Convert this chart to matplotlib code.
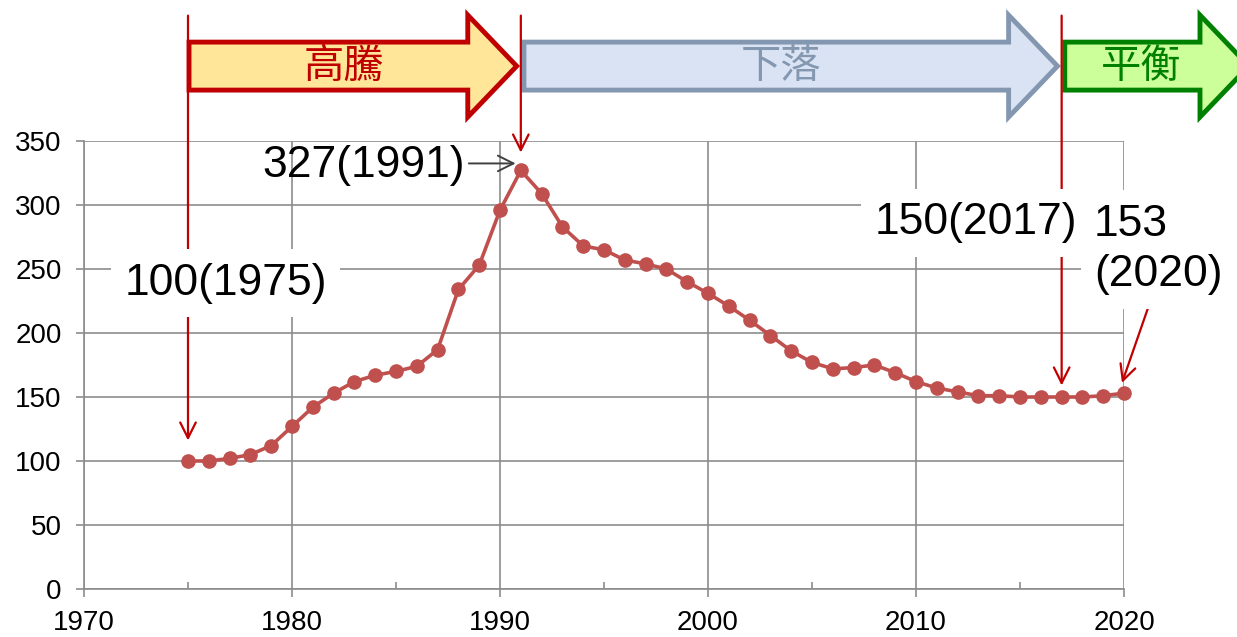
import matplotlib
matplotlib.use('Agg')
import matplotlib.pyplot as plt
from matplotlib.patches import Polygon
from matplotlib.ticker import MultipleLocator

# ---- data ----
years = list(range(1975, 2021))
values = [100, 100, 102, 105, 112, 127, 142, 153, 162, 167,
          170, 174, 187, 234, 253, 296, 327, 309, 283, 268,
          265, 257, 254, 250, 240, 231, 221, 210, 198, 186,
          177, 172, 173, 175, 169, 162, 157, 154, 151, 151,
          150, 150, 150, 150, 151, 153]
phase_labels = ["高騰", "下落", "平衡"]
phase_starts = [1975, 1991, 2017]
phase_ends = [1991, 2017, 2026]
phase_face = ["#FFE699", "#DAE3F3", "#CCFF99"]
phase_edge = ["#C00000", "#8497B0", "#008000"]
x_ticks = [1970, 1980, 1990, 2000, 2010, 2020]
y_ticks = [0, 50, 100, 150, 200, 250, 300, 350]

plt.rcParams['font.family'] = ['Liberation Sans', 'DejaVu Sans']
CJK = ['Noto Sans CJK TC', 'DejaVu Sans']

fig = plt.figure(figsize=(12.37, 6.37), dpi=100)
ax = fig.add_axes([0.0679, 0.0754, 0.9087 - 0.0679, 0.7786 - 0.0754])

grid_c = '#8C8C8C'
ax.set_xlim(1970, 2020)
ax.set_ylim(0, 350)
ax.set_xticks(x_ticks)
ax.set_yticks(y_ticks)
ax.xaxis.set_minor_locator(MultipleLocator(5))
ax.grid(True, which='major', color=grid_c, lw=1.2, zorder=0)
for s in ['top', 'right']:
    ax.spines[s].set_visible(False)
for s in ['left', 'bottom']:
    ax.spines[s].set_color(grid_c)
    ax.spines[s].set_linewidth(1.2)
ax.tick_params(axis='both', which='major', direction='out', length=6,
               width=1.2, color=grid_c, labelsize=20, labelcolor='black')
ax.tick_params(axis='x', which='major', pad=9)
ax.tick_params(axis='y', which='major', pad=10)
ax.tick_params(axis='x', which='minor', direction='in', length=5,
               width=1.2, color=grid_c)
ax.tick_params(axis='y', which='minor', length=0)
ax.set_axisbelow(True)

# ---- data line ----
ax.plot(years, values, color='#C0504D', lw=2.6, marker='o', ms=9.5,
        zorder=4, clip_on=False)

red = '#C00000'
top_y = 448
# vertical phase lines with arrows
arrow_targets = [(1975, 116), (1991, 341), (2017, 159)]
for xv, yt in arrow_targets:
    ax.annotate('', xy=(xv, yt), xytext=(xv, top_y),
                arrowprops=dict(arrowstyle='->', color=red, lw=1.6,
                                mutation_scale=28, shrinkA=0, shrinkB=0),
                annotation_clip=False, zorder=3)

# 2020 diagonal arrow
ax.annotate('', xy=(2019.9, 161), xytext=(2021.15, 219.5),
            arrowprops=dict(arrowstyle='->', color=red, lw=1.6,
                            mutation_scale=28, shrinkA=0, shrinkB=0),
            annotation_clip=False, zorder=3)
# 1991 gray arrow
ax.annotate('', xy=(1990.75, 332.5), xytext=(1988.5, 332.5),
            arrowprops=dict(arrowstyle='->', color='#404040', lw=1.4,
                            mutation_scale=28, shrinkA=0, shrinkB=0),
            annotation_clip=False, zorder=3)

box = dict(boxstyle='square,pad=0.3', fc='white', ec='none')
fs = 32
ax.text(1988.3, 331, '327(1991)', ha='right', va='center', fontsize=fs, zorder=6)
ax.text(1976.8, 239, '100(1975)', ha='center', va='center', fontsize=fs,
        bbox=box, zorder=6)
ax.text(2017.75, 286, '150(2017)', ha='right', va='center', fontsize=fs,
        bbox=box, zorder=6)
ax.text(2018.55, 301, '153\n(2020)', ha='left', va='top', fontsize=fs,
        linespacing=1.3, zorder=6, clip_on=False,
        bbox=dict(boxstyle='square,pad=0.3', fc='white', ec='none'))

# ---- phase arrows on top ----
body_top, body_bot = 427.3, 389.8
head_top, head_bot = 448.4, 368.75
mid = (body_top + body_bot) / 2
head_len = 2.35
for lab, x0, x1, fc, ec in zip(phase_labels, phase_starts, phase_ends,
                                phase_face, phase_edge):
    xs = x0 + 0.15 if x0 != 1975 else x0 + 0.05
    xe = x1 - 0.2 if x1 != 2026 else x1
    xh = xe - head_len
    pts = [(xs, body_bot), (xs, body_top), (xh, body_top), (xh, head_top),
           (xe, mid), (xh, head_bot), (xh, body_bot)]
    poly = Polygon(pts, closed=True, fc=fc, ec=ec, lw=3.5, clip_on=False,
                   zorder=2, joinstyle='miter')
    ax.add_patch(poly)
    cx = (xs + xe) / 2 - 0.45 if x1 != 2026 else (xs + xe) / 2 - 0.75
    ax.text(cx, mid, lab, ha='center', va='center', fontsize=29,
            color=ec, family=CJK, fontweight='light', zorder=3, clip_on=False)

fig.savefig('out.png', dpi=100)
